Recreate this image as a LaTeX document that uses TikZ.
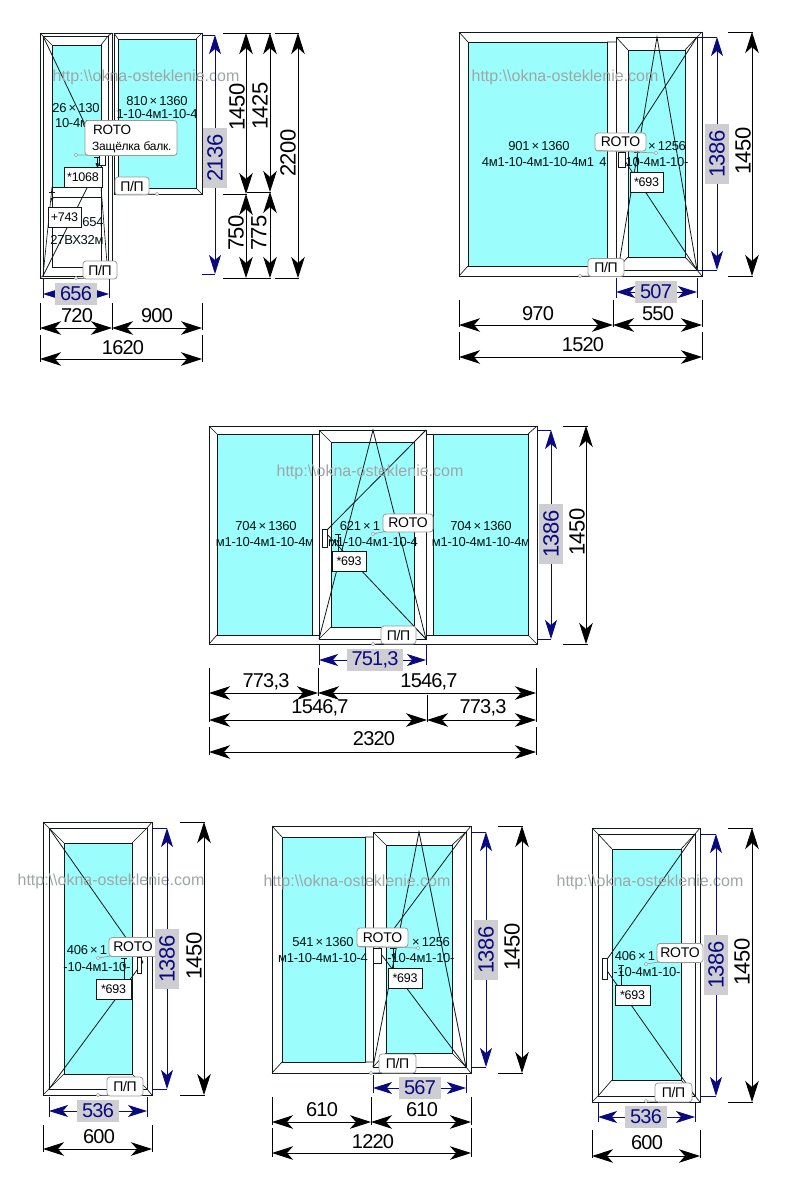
\documentclass[tikz,border=0pt]{standalone}
\usepackage{fontspec}
\setmainfont{Liberation Sans}
\newfontfamily\dimf[LetterSpace=-4]{Liberation Sans}
\newfontfamily\dimv[LetterSpace=-2]{Liberation Sans}
\newfontfamily\smf[LetterSpace=-2]{Liberation Sans}
\usetikzlibrary{arrows.meta,calc}
\definecolor{glasscol}{HTML}{9CFDFD}
\definecolor{linecol}{HTML}{101818}
\definecolor{navycol}{HTML}{0A0A80}
\definecolor{greycol}{HTML}{CDCDD2}
\definecolor{wmcol}{HTML}{A0A6A6}
\tikzset{
  x=1pt,y=-1pt,
  outline/.style={draw=linecol,line width=0.85pt},
  glass/.style={draw=linecol,line width=0.85pt,fill=glasscol},
  thin part/.style={draw=linecol,line width=0.65pt},
  dimarrow/.style={draw=black,line width=0.9pt,{Stealth[length=21pt,width=13.5pt,inset=6pt]}-{Stealth[length=21pt,width=13.5pt,inset=6pt]}},
  bluearrow/.style={draw=navycol,line width=0.9pt,{Stealth[length=19pt,width=12pt,inset=5pt]}-{Stealth[length=19pt,width=12pt,inset=5pt]}},
  ext/.style={draw=black,line width=0.7pt},
  bext/.style={draw=navycol,line width=0.7pt},
  dimtext/.style={inner sep=0pt,font=\dimf\fontsize{20}{20}\selectfont,text=black},
  dimvtext/.style={rotate=90,inner sep=0pt,font=\dimv\fontsize{22}{22}\selectfont,text=black},
  bluetext/.style={inner xsep=5pt,inner ysep=0pt,minimum height=22pt,fill=greycol,font=\dimf\fontsize{20}{20}\selectfont,text=navycol},
  bluevert/.style={rotate=90,inner xsep=6pt,inner ysep=0pt,minimum height=24pt,fill=greycol,font=\dimv\fontsize{22}{22}\selectfont,text=navycol},
  gtext/.style={inner sep=0pt,font=\smf\fontsize{13}{13}\selectfont,text={black!85!teal}},
  wmark/.style={inner sep=0pt,font=\fontsize{16}{16}\selectfont,text=wmcol},
  callout/.style={draw=gray!80,line width=0.8pt,fill=white,rounded corners=3pt,inner sep=0pt,font=\smf\fontsize{14}{14}\selectfont,text=black},
  labelbox/.style={draw=linecol,line width=1pt,fill=white,inner sep=0pt,font=\smf\fontsize{12.5}{12.5}\selectfont,text=black},
  dotmark/.style={circle,draw=gray!80,fill=white,line width=0.6pt,inner sep=0pt,minimum size=3.5pt},
  leader/.style={draw=gray!80,line width=0.7pt},
}
% horizontal dimension: id x1 x2 y ext-top ext-bottom label lx ly
\newcommand{\hdim}[9]{%
  \coordinate (#1-a) at (#2,#4); \coordinate (#1-b) at (#3,#4);
  \coordinate (#1-a1) at (#2,#5); \coordinate (#1-a2) at (#2,#6);
  \coordinate (#1-b1) at (#3,#5); \coordinate (#1-b2) at (#3,#6);
  \draw[ext] (#1-a1) -- (#1-a2); \draw[ext] (#1-b1) -- (#1-b2);
  \draw[dimarrow] (#1-a) -- (#1-b);
  \node[dimtext] (#1-l) at (#8,#9) {#7};}
% blue horizontal dimension
\newcommand{\bhdim}[8]{%
  \coordinate (#1-a) at (#2,#4); \coordinate (#1-b) at (#3,#4);
  \coordinate (#1-a1) at (#2,#5); \coordinate (#1-a2) at (#2,#6);
  \coordinate (#1-b1) at (#3,#5); \coordinate (#1-b2) at (#3,#6);
  \draw[bext] (#1-a1) -- (#1-a2); \draw[bext] (#1-b1) -- (#1-b2);
  \draw[bluearrow] (#1-a) -- (#1-b);
  \node[bluetext] (#1-l) at (#8,#4) {#7};}
% vertical dimension: id x y1 y2 ext-left ext-right label lx ly
\newcommand{\vdim}[9]{%
  \coordinate (#1-a) at (#2,#3); \coordinate (#1-b) at (#2,#4);
  \coordinate (#1-a1) at (#5,#3); \coordinate (#1-a2) at (#6,#3);
  \coordinate (#1-b1) at (#5,#4); \coordinate (#1-b2) at (#6,#4);
  \draw[ext] (#1-a1) -- (#1-a2); \draw[ext] (#1-b1) -- (#1-b2);
  \draw[dimarrow] (#1-a) -- (#1-b);
  \node[dimvtext] (#1-l) at (#8,#9) {#7};}
% blue vertical dimension
\newcommand{\bvdim}[8]{%
  \coordinate (#1-a) at (#2,#3); \coordinate (#1-b) at (#2,#4);
  \coordinate (#1-a1) at (#5,#3); \coordinate (#1-a2) at (#6,#3);
  \coordinate (#1-b1) at (#5,#4); \coordinate (#1-b2) at (#6,#4);
  \draw[bext] (#1-a1) -- (#1-a2); \draw[bext] (#1-b1) -- (#1-b2);
  \draw[bluearrow] (#1-a) -- (#1-b);
  \node[bluevert] (#1-l) at (#2,#8) {#7};}
% pane: outer x1 y1 x2 y2, glass x1 y1 x2 y2 with mitres
\newcommand{\pane}[8]{%
  \draw[outline,fill=white] (#1,#2) rectangle (#3,#4);
  \draw[glass] (#5,#6) rectangle (#7,#8);
  \draw[thin part] (#1,#2) -- (#5,#6) (#3,#2) -- (#7,#6) (#1,#4) -- (#5,#8) (#3,#4) -- (#7,#8);}
% handle
\newcommand{\handle}[4]{\draw[thin part,fill=white] (#1,#2) rectangle (#3,#4);}
% T-mark: x, y1, y2
\newcommand{\tmark}[3]{\draw[thin part] (#1,#2) -- (#1,#3) (#1-3,#2) -- (#1+3,#2);
  \fill[linecol] (#1-1.5,#2+6) -- (#1+1.5,#2+6) -- (#1,#2+10) -- cycle;}
% callout with leader: id cx cy w h dotx doty text
\newcommand{\call}[8]{%
  \node[dotmark] (#1-d) at (#6,#7) {};
  \node[callout,minimum width=#4pt,minimum height=#5pt] (#1) at (#2,#3) {#8};
  \draw[leader] (#1-d) -- ($(#1.south west)+(3,-1)$);}
\newcommand{\lbox}[6]{\node[labelbox,minimum width=#4pt,minimum height=#5pt] (#1) at (#2,#3) {#6};}
\begin{document}
\begin{tikzpicture}
\useasboundingbox (0,0) rectangle (800,1200);
\fill[white] (0,0) rectangle (800,1200);

% ---------- Window 1: balcony block ----------
\pane{114}{33}{202}{194}{118}{39}{196}{188}
\draw[outline,fill=white] (40,33) rectangle (112,278);
\draw[thin part] (107,36) -- (107,276) (103,45) -- (103,267);
\pane{43}{36}{108}{276}{52}{45}{101}{187}
\draw[thin part] (52,187) rectangle (101,197);
\draw[thin part] (52,197) rectangle (101,267);
\draw[thin part] (40,33) -- (43,36) (112,33) -- (108,36) (40,278) -- (43,276);
\draw[line width=0.8pt,draw=linecol] (43,36) -- (101,158) (43,276) -- (101,160);
\handle{99}{150}{105}{165}
\node[gtext] (t1a) at (76,108) {26\,×\,130};
\node[gtext] (t1b) at (72,123) {10-4м};
\node[gtext] (t1c) at (157,101) {810\,×\,1360};
\node[gtext] (t1d) at (157,114.5) {1-10-4м1-10-4};
\node[gtext] (t1e) at (93,222) {654};
\node[gtext] (t1f) at (77,240) {27ВХ32м};
\node[wmark] (wm1) at (146,77) {http:\textbackslash\textbackslash okna-osteklenie.com};
\tmark{97}{157}{167}
\tmark{52}{192}{207}
\call{c1}{131}{138}{92}{35}{76}{155}{}
\node[inner sep=0pt,font=\smf\fontsize{13.5}{13.5}\selectfont,anchor=west] (c1a) at (93,130) {ROTO};
\node[inner sep=0pt,font=\smf\fontsize{12}{12}\selectfont,anchor=west] (c1b) at (92,147) {Защёлка балк.};
\lbox{b1a}{83}{177}{38}{20}{*1068}
\lbox{b1b}{64.5}{217}{33}{20}{+743}
\call{c1c}{132}{186}{34}{18}{157}{194}{П/П}
\call{c1d}{100}{270}{34}{18}{76}{278}{П/П}

\bvdim{d1a}{215}{35}{274}{202}{215}{2136}{158}
\vdim{d1b}{246}{33}{194}{223}{247}{1450}{237}{107}
\vdim{d1c}{246}{194}{278}{223}{247}{750}{236}{233}
\vdim{d1d}{270}{33}{192}{247}{271}{1425}{260}{106}
\vdim{d1e}{270}{192}{278}{247}{271}{775}{259}{233}
\vdim{d1f}{298}{33}{278}{275}{299}{2200}{288}{153}
\bhdim{d1g}{43}{109}{294}{279}{298}{656}{76}
\hdim{d1h}{40}{112}{328}{303}{330}{720}{77}{316}
\hdim{d1i}{112}{202}{328}{303}{330}{900}{157}{316}
\hdim{d1j}{40}{202}{359}{335}{362}{1620}{123}{348}

% ---------- Window 2 ----------
\draw[outline,fill=white] (459,32) rectangle (702,276);
\draw[glass] (468,42) rectangle (607,266);
\draw[thin part] (459,32) -- (468,42) (459,276) -- (468,266) (607,42) -- (616,42) (607,266) -- (616,266);
\pane{616}{37}{697}{270}{628}{50}{685}{257}
\draw[thin part] (697,37) -- (702,32) (697,270) -- (702,276);
\draw[line width=0.8pt,draw=linecol] (618,270) -- (657,37) -- (697,270);
\draw[line width=0.8pt,draw=linecol] (697,37) -- (621,155) -- (697,270);
\handle{618}{152}{625}{167}
\node[gtext] (t2a) at (539,146) {901\,×\,1360};
\node[gtext] (t2b) at (538,162) {4м1-10-4м1-10-4м1};
\node[gtext] (t2c) at (603,162) {4};
\node[gtext] (t2d) at (667,146) {×\,1256};
\node[gtext] (t2e) at (657,162) {10-4м1-10-};
\node[wmark] (wm2) at (565,77) {http:\textbackslash\textbackslash okna-osteklenie.com};
\tmark{637}{152}{172}
\call{c2}{620.5}{142}{51}{18}{656}{153}{ROTO}
\lbox{b2}{646.5}{182}{33}{20}{*693}
\call{c2b}{606}{267.5}{36}{18}{580}{276}{П/П}

\bvdim{d2a}{717}{37}{270}{697}{717}{1386}{154}
\vdim{d2b}{752}{32}{276}{728}{753}{1450}{743}{151}
\bhdim{d2c}{616}{697}{292}{278}{298}{507}{656}
\hdim{d2d}{459}{613}{325}{300}{327}{970}{538}{314}
\hdim{d2e}{613}{702}{325}{300}{327}{550}{658}{314}
\hdim{d2f}{459}{702}{357}{332}{360}{1520}{583}{345}

% ---------- Window 3 ----------
\draw[outline,fill=white] (209,426) rectangle (537,644);
\draw[glass] (217,434) rectangle (312,635);
\draw[glass] (433,434) rectangle (528,635);
\draw[thin part] (209,426) -- (217,434) (209,644) -- (217,635) (537,426) -- (528,434) (537,644) -- (528,635);
\draw[thin part] (312,434) -- (319,434) (312,635) -- (319,635) (426,434) -- (433,434) (426,635) -- (433,635);
\pane{319}{430}{426}{639}{331}{442}{414}{627}
\draw[line width=0.8pt,draw=linecol] (319,639) -- (373,430) -- (426,639);
\draw[line width=0.8pt,draw=linecol] (426,430) -- (325,532) -- (426,639);
\handle{322}{529}{327}{547}
\node[gtext] (t3a) at (266,526) {704\,×\,1360};
\node[gtext] (t3b) at (265,542) {м1-10-4м1-10-4м};
\node[gtext] (t3c) at (481,526) {704\,×\,1360};
\node[gtext] (t3d) at (481,542) {м1-10-4м1-10-4м};
\node[gtext] (t3e) at (360,526) {621\,×\,1};
\node[gtext] (t3f) at (373,542) {м1-10-4м1-10-4};
\node[wmark] (wm3) at (370,472) {http:\textbackslash\textbackslash okna-osteklenie.com};
\tmark{338}{534}{551}
\call{c3}{408}{523}{50}{18}{373}{534}{ROTO}
\lbox{b3}{349}{561}{34}{20}{*693}
\call{c3b}{398.5}{635}{35}{18}{373}{644}{П/П}

\bvdim{d3a}{551}{430}{639}{537}{551}{1386}{534}
\vdim{d3b}{586}{426}{644}{563}{588}{1450}{577}{532}
\bhdim{d3c}{319}{426}{660}{645}{665}{751,3}{375}
\hdim{d3d}{209}{318}{693}{668}{696}{773,3}{266}{682}
\hdim{d3e}{318}{536}{693}{668}{696}{1546,7}{429}{682}
\hdim{d3f}{209}{427}{720}{695}{722}{1546,7}{320}{708}
\hdim{d3g}{427}{536}{720}{695}{722}{773,3}{483}{708}
\hdim{d3h}{209}{536}{752}{727}{755}{2320}{374}{739}

% ---------- Window 4 ----------
\draw[outline,fill=white] (43,822) rectangle (152,1095);
\draw[thin part] (43,822) -- (49,828) (152,822) -- (147,828) (43,1095) -- (49,1089) (152,1095) -- (147,1089);
\pane{49}{828}{147}{1089}{64}{843}{132}{1074}
\draw[line width=0.8pt,draw=linecol] (49,828) -- (143,962) -- (49,1089);
\handle{137}{957}{141}{973}
\node[gtext] (t4a) at (87,950) {406\,×\,1};
\node[gtext] (t4b) at (97,967) {-10-4м1-10-};
\node[wmark] (wm4) at (111,881) {http:\textbackslash\textbackslash okna-osteklenie.com};
\tmark{124}{958}{979}
\call{c4}{133}{947}{48}{19}{98}{958}{ROTO}
\lbox{b4}{113.5}{989}{35}{20}{*693}
\call{c4b}{125}{1086.5}{36}{19}{98}{1095}{П/П}

\bvdim{d4a}{167}{828}{1089}{152}{167}{1386}{959}
\vdim{d4b}{204}{822}{1095}{180}{205}{1450}{194}{956}
\bhdim{d4c}{49}{147}{1111}{1097}{1117}{536}{98}
\hdim{d4d}{43}{152}{1149}{1125}{1152}{600}{99}{1137}

% ---------- Window 5 ----------
\draw[outline,fill=white] (272,826) rectangle (471,1073);
\draw[glass] (282,837) rectangle (365,1062);
\draw[thin part] (272,826) -- (282,837) (272,1073) -- (282,1062) (365,837) -- (373,837) (365,1062) -- (373,1062);
\pane{373}{832}{466}{1067}{386}{845}{452}{1053}
\draw[thin part] (466,832) -- (471,826) (466,1067) -- (471,1073);
\draw[line width=0.8pt,draw=linecol] (373,1067) -- (419,832) -- (466,1067);
\draw[line width=0.8pt,draw=linecol] (466,832) -- (378,950) -- (466,1067);
\handle{373}{948}{381}{963}
\node[gtext] (t5a) at (323,942) {541\,×\,1360};
\node[gtext] (t5b) at (323,958) {м1-10-4м1-10-4};
\node[gtext] (t5c) at (431,942) {×\,1256};
\node[gtext] (t5d) at (421,958) {-10-4м1-10-};
\node[wmark] (wm5) at (357,882) {http:\textbackslash\textbackslash okna-osteklenie.com};
\tmark{393}{948}{968}
\call{c5}{382.5}{937.5}{51}{19}{418}{948}{ROTO}
\lbox{b5}{405}{978}{34}{20}{*693}
\call{c5b}{397.5}{1063.5}{37}{19}{371}{1073}{П/П}

\bvdim{d5a}{486}{832}{1067}{471}{486}{1386}{950}
\vdim{d5b}{522}{826}{1073}{498}{523}{1450}{512}{947}
\bhdim{d5c}{373}{466}{1088}{1075}{1093}{567}{420}
\hdim{d5d}{272}{371}{1122}{1097}{1125}{610}{322}{1110}
\hdim{d5e}{371}{471}{1122}{1097}{1125}{610}{422}{1110}
\hdim{d5f}{272}{471}{1153}{1128}{1157}{1220}{373}{1142}

% ---------- Window 6 ----------
\draw[outline,fill=white] (592,828) rectangle (700,1102);
\draw[thin part] (592,828) -- (598,834) (700,828) -- (695,834) (592,1102) -- (598,1096) (700,1102) -- (695,1096);
\pane{598}{834}{695}{1096}{612}{849}{681}{1080}
\draw[line width=0.8pt,draw=linecol] (695,834) -- (603,965) -- (695,1096);
\handle{602}{958}{607}{979}
\node[gtext] (t6a) at (635,956) {406\,×\,1};
\node[gtext] (t6b) at (647,972) {-10-4м1-10-};
\node[wmark] (wm6) at (650,882) {http:\textbackslash\textbackslash okna-osteklenie.com};
\tmark{621}{965}{985}
\call{c6}{680}{953}{46}{19}{646}{964}{ROTO}
\lbox{b6}{632.5}{995}{35}{20}{*693}
\call{c6b}{673.5}{1092.5}{37}{19}{646}{1101}{П/П}

\bvdim{d6a}{716}{834}{1096}{700}{716}{1386}{965}
\vdim{d6b}{752}{828}{1102}{728}{753}{1450}{742}{962}
\bhdim{d6c}{598}{695}{1117}{1103}{1122}{536}{646}
\hdim{d6d}{592}{700}{1156}{1130}{1158}{600}{647}{1143}
\end{tikzpicture}
\end{document}
